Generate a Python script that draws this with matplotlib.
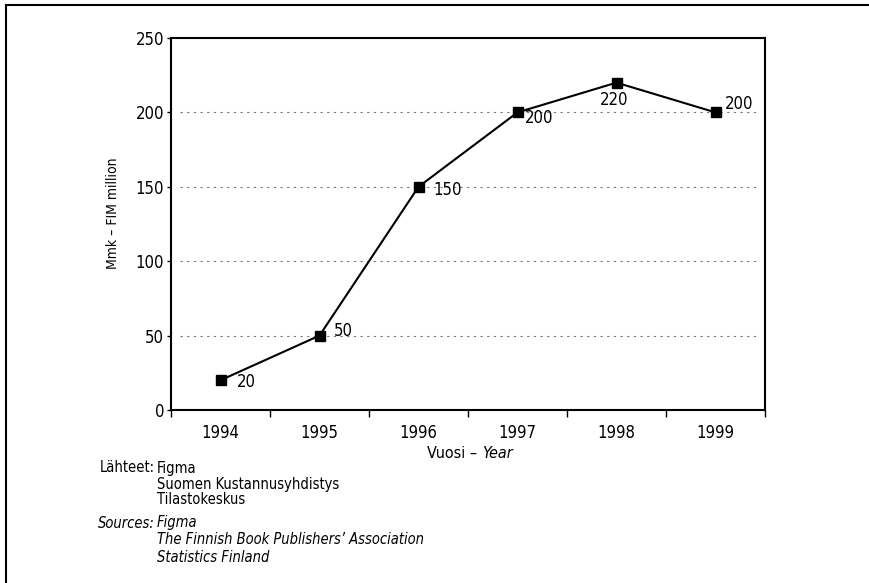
import matplotlib
matplotlib.use('Agg')
import matplotlib.pyplot as plt
from matplotlib.lines import Line2D

plt.rcParams['font.family'] = ['Liberation Sans Narrow', 'DejaVu Sans']
plt.rcParams['font.stretch'] = 'condensed'

years = [1994, 1995, 1996, 1997, 1998, 1999]
values = [20, 50, 150, 200, 220, 200]
yticks = [0, 50, 100, 150, 200, 250]

fig = plt.figure(figsize=(8.69, 5.83), dpi=100)
ax = fig.add_axes([171/869, 1 - 410/583, (765 - 171)/869, (410 - 38)/583])

ax.plot(years, values, color='black', lw=1.5, marker='s', ms=6.5, zorder=3)

# value labels, offsets in points
offsets = [(12, -1, 'left', 'center'), (10, 3.5, 'left', 'center'),
           (11, -2, 'left', 'center'), (5.5, -4, 'left', 'center'),
           (-2, -6, 'center', 'top'), (6.5, 6, 'left', 'center')]
for x, y, (dx, dy, ha, va) in zip(years, values, offsets):
    ax.annotate(str(y), (x, y), xytext=(dx, dy), textcoords='offset points',
                ha=ha, va=va, fontsize=12)

ax.set_xlim(1993.5, 1999.5)
ax.set_ylim(0, 250)
ax.set_xticks(years)
ax.set_xticklabels([str(y) for y in years], fontsize=12)
ax.set_xticks([y + 0.5 for y in [1993] + years], minor=True)
ax.tick_params(axis='x', which='major', length=0, pad=10)
ax.tick_params(axis='x', which='minor', length=5, width=1, direction='out')
ax.set_yticks(yticks)
ax.set_yticklabels([str(v) for v in yticks], fontsize=12)
ax.tick_params(axis='y', length=3, width=1, pad=2)

for v in yticks[1:-1]:
    ax.axhline(v, xmin=0.015, xmax=0.985, color='#777777', lw=0.8,
               linestyle=(0, (2, 4)), zorder=1)

for s in ax.spines.values():
    s.set_linewidth(1.5)

fig.text(113/869, 1 - 213/583, 'Mmk – FIM million', fontsize=10, rotation=90,
         ha='center', va='center')
fig.text(482/869, 1 - 453/583, 'Vuosi – ', fontsize=11.5, ha='right', va='center')
fig.text(482/869, 1 - 453/583, 'Year', fontsize=11.5, ha='left', va='center', style='italic')

# sources
src_fi = ['Figma', 'Suomen Kustannusyhdistys', 'Tilastokeskus']
src_en = ['Figma', 'The Finnish Book Publishers\u2019 Association', 'Statistics Finland']
fig.text(155/869, 1 - 468/583, 'Lähteet:', fontsize=10.5, va='center', ha='right')
for i, s in enumerate(src_fi):
    fig.text(157/869, 1 - (468 + 16 * i)/583, s, fontsize=10.5, va='center')
fig.text(155/869, 1 - 523/583, 'Sources:', fontsize=10.5, va='center', ha='right',
         style='italic')
for i, s in enumerate(src_en):
    fig.text(157/869, 1 - (523 + 17 * i)/583, s, fontsize=10.5, va='center', style='italic')

# page frame (top and left edges)
fig.add_artist(Line2D([6/869, 1], [1 - 5/583, 1 - 5/583], color='black', lw=1.5))
fig.add_artist(Line2D([6/869, 6/869], [0, 1 - 5/583], color='black', lw=1.5))

fig.savefig('out.png', dpi=100)
